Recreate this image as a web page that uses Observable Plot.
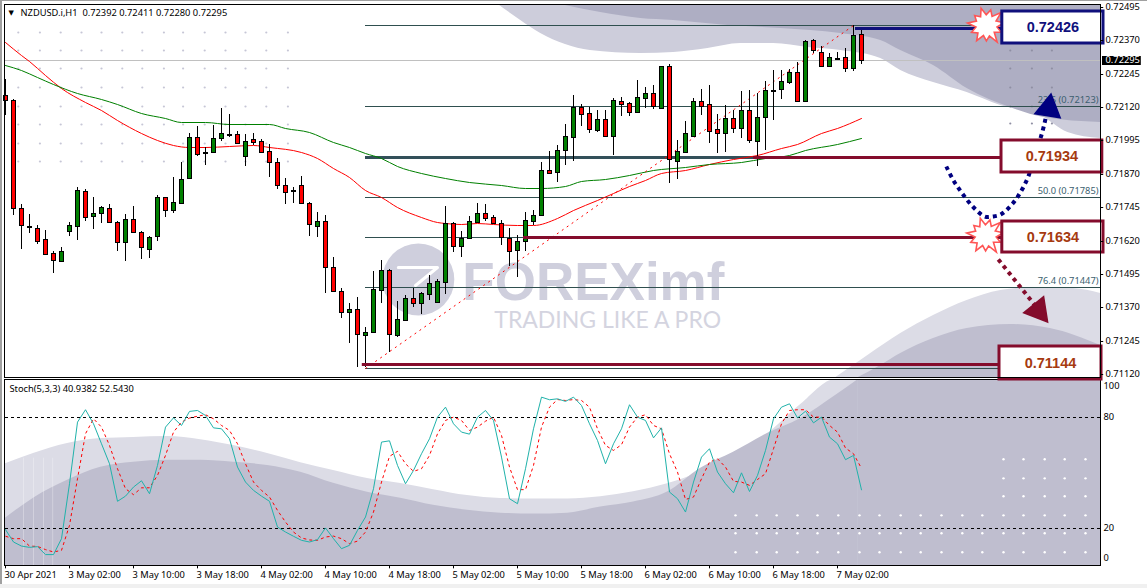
<!DOCTYPE html>
<html>
<head>
<meta charset="utf-8">
<script src="https://cdn.jsdelivr.net/npm/d3@7"></script>
<script src="https://cdn.jsdelivr.net/npm/@observablehq/plot@0.6"></script>
<style>
html,body{margin:0;padding:0;background:#fff;width:1147px;height:588px;overflow:hidden}
#chart{position:relative;width:1147px;height:588px}
#chart svg{position:absolute;left:0;top:0;background:transparent}
#edgeL{position:absolute;left:0;top:0;width:2px;height:584px;background:#a0a0a0}
#edgeT{position:absolute;left:0;top:0;width:1147px;height:1px;background:#a0a0a0}
#edgeB{position:absolute;left:0;top:584px;width:1147px;height:4px;background:#f0f0f0}
</style>
</head>
<body>
<div id="chart"><div id="edgeL"></div><div id="edgeT"></div><div id="edgeB"></div></div>
<script>
// Prices are held in points (1 point = 0.00001)
const highs = [72225,72150,71756,71718,71677,71658,71580,71595,71688,71820,
71812,71782,71748,71756,71692,71718,71748,71655,71636,71790,
71782,71857,71913,72022,72048,71970,72052,72116,72093,72030,
72018,72022,72000,71981,71928,71853,71820,71861,71763,71726,
71715,71557,71441,71385,71407,71295,71505,71546,71512,71392,
71415,71441,71426,71490,71475,71748,71688,71655,71711,71760,
71756,71715,71696,71666,71640,71726,71733,71913,71955,71977,
72056,72165,72131,72120,72108,72108,72153,72157,72138,72221,
72195,72202,72273,72281,71996,72067,72153,72187,72202,72093,
72127,72108,72180,72183,72172,72217,72258,72258,72262,72288,
72371,72375,72348,72322,72326,72341,72427,72411];
const opens = [72165,72146,71741,71673,71666,71625,71572,71542,71655,71673,
71805,71711,71722,71741,71688,71613,71700,71651,71587,71636,
71782,71733,71760,71853,72007,71951,71951,72003,72018,72018,
71936,72000,71992,71955,71913,71827,71808,71827,71760,71673,
71692,71520,71430,71351,71362,71265,71276,71433,71508,71265,
71321,71403,71385,71418,71388,71463,71685,71598,71628,71688,
71722,71707,71685,71628,71583,71617,71692,71715,71883,71876,
71958,72007,72120,72097,72033,72075,72011,72142,72135,72101,
72153,72172,72116,72273,71917,71951,72011,72142,72131,72037,
72022,72078,72041,72108,71992,72082,72183,72187,72213,72251,
72142,72371,72326,72273,72303,72307,72266,72392];
const closes = [72146,71741,71677,71669,71617,71568,71546,71580,71677,71808,
71707,71722,71745,71688,71613,71700,71651,71595,71632,71782,
71733,71763,71850,72007,71943,71947,72003,72022,72014,71985,
71992,71988,71951,71913,71827,71801,71804,71760,71681,71692,
71520,71430,71351,71362,71268,71276,71437,71508,71268,71325,
71403,71385,71422,71460,71467,71685,71598,71628,71692,71722,
71703,71685,71632,71580,71617,71696,71715,71883,71872,71958,
72011,72120,72093,72037,72075,72011,72146,72131,72101,72157,
72172,72123,72273,71925,71955,72022,72142,72123,72030,72022,
72078,72041,72108,71996,72082,72183,72179,72217,72251,72142,
72367,72333,72273,72307,72299,72266,72390,72295];
const lows = [72090,71715,71587,71647,71606,71568,71497,71538,71636,71621,
71692,71662,71685,71685,71580,71542,71647,71550,71553,71617,
71707,71722,71760,71853,71936,71902,71951,71992,72007,71981,
71898,71977,71951,71857,71812,71756,71760,71756,71636,71632,
71422,71426,71328,71238,71148,71145,71276,71385,71201,71257,
71317,71370,71343,71396,71385,71418,71576,71557,71628,71688,
71692,71681,71602,71523,71482,71580,71677,71715,71868,71838,
71902,71917,72048,72022,72026,72011,71940,72086,72086,72101,
72116,72112,72112,71835,71850,71947,72011,72090,71985,71947,
71951,72022,72003,71985,71898,71958,72071,72150,72206,72142,
72142,72322,72273,72273,72299,72251,72255,72280];

// Moving averages read at selected bars
const maFastBars = [0,2,3,5,7,10,12,14,17,19,21,23,25,28,31,33,37,39,41,43,45,47,49,52,54,55,57,59,61,64,66,69,71,74,76,78,80,82,85,88,91,94,97,99,102,104,107];
const maFastVals = [72363,72315,72292,72240,72191,72138,72108,72071,72022,71996,71977,71970,71970,71973,71977,71970,71951,71928,71891,71857,71808,71782,71745,71707,71688,71685,71681,71685,71681,71677,71677,71703,71733,71771,71797,71823,71846,71872,71883,71906,71925,71940,71966,71981,72022,72041,72078];
const maSlowBars = [0,2,4,6,9,12,14,17,20,22,25,28,33,35,38,41,43,45,47,49,52,55,58,62,65,67,70,72,75,78,81,85,88,92,95,98,100,104,107];
const maSlowVals = [72277,72258,72232,72206,72172,72150,72131,72097,72078,72063,72063,72056,72056,72041,72026,71988,71970,71947,71928,71898,71872,71853,71838,71827,71816,71816,71823,71842,71850,71865,71883,71895,71906,71913,71928,71940,71958,71981,72003];

// Stochastic(5,3,3)
const stochK = [19.4,12.7,10.5,9.8,10.2,5.9,5.9,14.5,44.2,77.5,84.2,76.6,65.8,55,34.7,37.5,42.4,45.8,38.8,54.1,
74.8,79.8,75.7,83.3,83.8,81.1,74.4,73.9,68.5,53.2,45.1,40.6,37.5,34.7,20.8,18.1,15.8,13.6,12.7,14,
20.3,14.5,9.1,10.9,19,26.2,41.5,66.7,67.4,54.1,44.2,51.4,60.4,68.5,80.2,85.6,76.6,72.1,71,80.2,
83.8,78.4,58.6,36.1,33.4,52.3,73.9,91,89.6,90.1,88.7,91,86.5,76.6,67.6,55,65.8,73.9,86.9,80.2,
78.4,69,74.4,39.7,36.1,28.9,45.1,58.6,63.1,50.5,44.2,39.3,50.1,40,48.7,62.2,79.3,85.6,87.4,79.8,
83.4,77.1,80.2,69.4,65.8,57.2,59.5,40.9];
const stochD = [15.8,14.5,14.5,10.5,10.3,8.6,7.3,8.2,21.7,46.9,71.2,79.3,74.8,64.9,52.3,41.5,38.3,42,42,48.7,
59.5,72.1,77.5,79.7,80.7,81.5,79.3,75.7,73,65.8,55,45.1,40.6,37,29.8,23.5,18.1,14.9,13.8,13.6,
15.4,15.9,14.5,11.8,13.2,18.1,28.9,45.1,59,61.7,55,50.9,52.3,59.5,71.2,78.4,80.2,78.4,73,74.8,
78,80.2,70.3,53.2,41,41,54.1,74.8,85.6,89.7,89.2,89.7,89.2,85.6,73.9,64.9,62.2,65.3,74.8,80.2,
81.5,75.7,73.9,60.4,50.5,35.7,37,46.9,55.9,57.7,53.2,45.5,45.1,43.3,46.5,49.6,63.1,76.6,83.8,84.2,
84.2,80.2,80.2,75.7,72.1,63.5,60.4,52.5];

const priceTicks = [72495,72370,72245,72120,71995,71870,71745,71620,71495,71370,71245,71120];
const timeBars = [0,8,16,24,32,40,48,56,64,72,80,88,96,104];
const timeLabels = ["30 Apr 2021","3 May 02:00","3 May 10:00","3 May 18:00","4 May 02:00","4 May 10:00","4 May 18:00","5 May 02:00","5 May 10:00","5 May 18:00","6 May 02:00","6 May 10:00","6 May 18:00","7 May 02:00"];
const fibLevels = [72426,72123,71785,71634,71447,71144];
const fibLabels = [{p:72123,t:"23.6 (0.72123)"},{p:71785,t:"50.0 (0.71785)"},{p:71447,t:"76.4 (0.71447)"}];

// Background swooshes (bar, points)
const topLightBars=[61.6,64.4,66.9,70,73.1,79.4,83.5,87.8,91.9,96,100.3,104.4,109.4,111.9,116,120.2,124.4,129.4,132.8,136.9];
const topLightVals=[72506,72446,72397,72356,72333,72322,72326,72341,72360,72360,72345,72333,72303,72258,72213,72176,72127,72090,72026,72003];
const topDarkBars=[69.4,74.4,79.4,83.5,90.3,96.9,104.4,109.4,111.9,116,120.2,125.6,129.8,136.9];
const topDarkVals=[72506,72476,72453,72446,72427,72416,72397,72371,72333,72277,72191,72120,72082,72063];
const lowLightBars=[103.8,107.8,111.9,116,120.2,124.4,128.5,133.5,136.9];
const lowLightVals=[71107,71190,71272,71340,71396,71433,71445,71441,71422];
const lowDarkBars=[106.6,109.4,111.9,116,120.2,125.6,130.6,136.9];
const lowDarkVals=[71107,71152,71197,71254,71291,71306,71291,71227];

// same swooshes in the oscillator window (bar, stochastic value)
const subLightBars=[0,3.5,7.75,11.9,16,20.25,24.4,28.5,32.75,36.9,41,45.25,49.4,53.5,57.75,61.9,66,70.25,74.4,78.5,82.75,86.9,91,95.25,99.4,103.8,106];
const subLightVals=[55,60.5,65.9,68.6,69.2,69.7,68,64.8,60.5,55.6,51.3,47,44.3,41,37.8,36.2,36,36,37.2,39.9,44.2,50.7,60.5,71.2,87,100.5,100.5];
const subDarkBars=[0,3.5,7.75,11.9,16,20.25,24.4,28.5,32.75,36.9,41,45.25,49.4,53.5,57.75,61.9,66,70.25,74.4,78.5,82.75,86.9,91,95.25,99.4,103.8,106.6];
const subDarkVals=[25.5,36.4,46.1,53.1,55.8,56.9,56.9,55.8,54.1,50.4,44.4,39.6,36.4,32.6,29.9,28.3,27.8,28.3,31.6,34.3,39.7,52.6,61.2,71.4,79.5,92,100.5];

// Logo and dotted texture
const dotBarsA=[1.6,4.3,6.9,9.5,12,14.6,17.1,19.8,22.2,24.9,27.5,30,32.6,35.3];
const dotValsA=[72401,72333,72266,72195,72123,72056,71985,71917];
const dotBarsB=[125.6,128.3,130.8];
const dotValsB=[72333,72266,72195,72123,72060];
const subDotBarsA=[91.25,93.9,96.4,99,101.5,104.1,106.75,109.25,111.9,114.4,117,119.6,122.1,124.75,127.25,129.9,132.4,135];
const subDotValsA=[27.1,17.4,7.2];
const subDotBarsB=[124.75,127.25,129.9,132.4,135];
const subDotValsB=[57.4,47.1,37.4];

// Arrows
const navyBars=[117.6,118.5,119.6,120.9,122.4,123.4,124.4,125.9,127,127.9,128.6,129.4,129.9,130.1];
const navyVals=[71898,71846,71797,71748,71711,71711,71718,71760,71808,71865,71940,72007,72063,72093];
const maroonBars=[124.1,125.3,126.6,127.9,128.8];
const maroonVals=[71550,71505,71456,71407,71373];

const FONT="Noto Sans";
const FS=9.3;
const AXIS=136.875;
const MAROON="#840c2c", NAVY="#10107c", SLATE="#2f4f4f";
const xDomain={domain:[0,107],range:[5,861]};

const candles=highs.map((h,i)=>({i,h,l:lows[i],o:opens[i],c:closes[i]}));
const pts=(b,v)=>b.map((x,k)=>({x,y:v[k]}));
const cross=(b,v)=>d3.cross(b,v,(x,y)=>({x,y}));

const burst={draw(ctx,size){
  const r=Math.sqrt(size/Math.PI);
  const radii=[1,.6,.9,.58,1.1,.6,.85,.58,1,.62,.9,.58,1.05,.6,.85,.58,1,.6,.9,.6,1.1,.6];
  radii.forEach((k,n)=>{
    const a=n/radii.length*2*Math.PI-.15;
    const px=Math.cos(a)*k*r, py=Math.sin(a)*k*r;
    n?ctx.lineTo(px,py):ctx.moveTo(px,py);
  });
  ctx.closePath();
}};

function areaAbove(b,v,top,fill){
  return Plot.areaY(pts(b,v),{x:"x",y1:()=>top,y2:"y",fill,curve:"monotone-x"});
}
function areaBelow(b,v,bottom,fill){
  return Plot.areaY(pts(b,v),{x:"x",y1:"y",y2:()=>bottom,fill,curve:"monotone-x"});
}
function box(x1,x2,top,bottom,stroke,label,color){
  return [
    Plot.rect([0],{x1:()=>x1,x2:()=>x2,y1:()=>top,y2:()=>bottom,fill:"#fff",stroke,strokeWidth:3}),
    Plot.text([label],{x:()=>(x1+x2)/2,y:()=>(top+bottom)/2,text:d=>d,fontFamily:"Liberation Sans",fontWeight:"bold",fontSize:14.5,fill:color})
  ];
}

// ---------- oscillator window ----------
const lower=Plot.plot({
  width:1147,height:588,
  marginLeft:4,marginRight:47,marginTop:379,marginBottom:23,
  style:{background:"transparent"},
  x:{...xDomain,axis:null},
  y:{domain:[0,100],range:[565,380],axis:null},
  marks:[
    areaBelow(subLightBars,subLightVals,0,"#dcdce6"),
    Plot.rectY([0],{x1:()=>106,x2:()=>AXIS,y1:()=>0,y2:()=>100.5,fill:"#dcdce6"}),
    areaBelow(subDarkBars,subDarkVals,0,"#bfbecf"),
    Plot.rectY([0],{x1:()=>106.6,x2:()=>AXIS,y1:()=>0,y2:()=>100.5,fill:"#bfbecf"}),
    Plot.ruleX([2.25,3.5,4.75,5.9],{x:d=>d,y1:0,y2:58,stroke:"#fff",strokeOpacity:.3}),
    Plot.dot(cross(subDotBarsA,subDotValsA),{x:"x",y:"y",r:1.2,fill:"#fff"}),
    Plot.dot(cross(subDotBarsB,subDotValsB),{x:"x",y:"y",r:1.2,fill:"#fff"}),
    Plot.ruleY([80,20],{x1:0,x2:AXIS,stroke:"#000",strokeDasharray:"3 3"}),
    Plot.line(stochD.map((v,i)=>({i,v})),{x:"i",y:"v",stroke:"#ff0000",strokeDasharray:"3 3",strokeLinecap:"butt",strokeWidth:1}),
    Plot.line(stochK.map((v,i)=>({i,v})),{x:"i",y:"v",stroke:"#20b2aa",strokeWidth:1}),
    Plot.frame({stroke:"#000"}),
    Plot.text(["Stoch(5,3,3) 40.9382 52.5430"],{text:d=>d,frameAnchor:"top-left",dx:5,dy:6,fontFamily:FONT,fontSize:FS,fill:"#000",textAnchor:"start"}),
    Plot.ruleX(timeBars,{x:d=>d,y1:0,y2:-1.8,stroke:"#000"}),
    Plot.text(timeLabels,{x:(d,i)=>timeBars[i],y:()=>-5.3,text:d=>d,textAnchor:"start",dx:-1,fontFamily:FONT,fontSize:FS,fill:"#000"}),
    Plot.text([80,20],{x:()=>AXIS,y:d=>d,text:d=>String(d),textAnchor:"start",dx:3,fontFamily:FONT,fontSize:FS,fill:"#000"}),
    Plot.text([100],{x:()=>AXIS,y:d=>d,text:d=>String(d),textAnchor:"start",dx:3,dy:6,fontFamily:FONT,fontSize:FS,fill:"#000"}),
    Plot.text([0],{x:()=>AXIS,y:d=>d,text:d=>String(d),textAnchor:"start",dx:3,dy:-7,fontFamily:FONT,fontSize:FS,fill:"#000"})
  ]
});

// ---------- price window ----------
const upper=Plot.plot({
  width:1147,height:588,
  marginLeft:4,marginRight:47,marginTop:4,marginBottom:211,
  style:{background:"transparent"},
  x:{...xDomain,axis:null},
  y:{domain:[72495,71120],range:[7,374],round:true,axis:null},
  marks:[
    areaAbove(topLightBars,topLightVals,72506,"#cdcddb"),
    areaAbove(topDarkBars,topDarkVals,72506,"#aeaec3"),
    areaBelow(lowLightBars,lowLightVals,71107,"#dcdce6"),
    areaBelow(lowDarkBars,lowDarkVals,71107,"#bfbecf"),
    Plot.dot(cross(dotBarsA,dotValsA),{x:"x",y:"y",r:1.1,fill:"#c6c6d6"}),
    Plot.dot(cross(dotBarsB,dotValsB),{x:"x",y:"y",r:1.1,fill:"#8f8fa3"}),
    // watermark
    Plot.dot([0],{x:()=>51.6,y:()=>71475,r:36,fill:"#cfcfdd"}),
    Plot.line(pts([49.1,54,51.25],[71520,71520,71452]),{x:"x",y:"y",stroke:"#fff",strokeWidth:3}),
    Plot.text(["FOREXimf"],{x:()=>57.1,y:()=>71462,text:d=>d,textAnchor:"start",fontFamily:"Liberation Sans",fontWeight:"bold",fontSize:53,fill:"#cfcfdd"}),
    Plot.text(["TRADING LIKE A PRO"],{x:()=>61.1,y:()=>71324,text:d=>d,textAnchor:"start",fontFamily:"Lato",fontSize:23,fill:"#d4d4e0"}),
    // levels
    Plot.ruleY([72295],{x1:0,x2:AXIS,stroke:"#c0c0c0"}),
    Plot.ruleY(fibLevels,{x1:45,x2:AXIS,stroke:SLATE}),
    Plot.ruleY([71934],{x1:45,x2:94,stroke:"#33505a",strokeWidth:3}),
    Plot.text(fibLabels,{x:()=>AXIS,y:"p",text:"t",textAnchor:"end",dx:-2,dy:-6,fontFamily:FONT,fontSize:FS,fill:"#3c5f70"}),
    // moving averages
    Plot.line(pts(maFastBars,maFastVals),{x:"x",y:"y",stroke:"#ff0000",strokeWidth:1,curve:"monotone-x"}),
    Plot.line(pts(maSlowBars,maSlowVals),{x:"x",y:"y",stroke:"#008000",strokeWidth:1,curve:"monotone-x"}),
    // fibo trend
    Plot.line(pts([45,106],[71144,72426]),{x:"x",y:"y",stroke:"#ff0000",strokeDasharray:"2 4",strokeLinecap:"butt",strokeWidth:1}),
    // candles
    Plot.ruleX(candles,{x:"i",y1:"l",y2:"h",stroke:"#000"}),
    Plot.rect(candles,{x1:d=>d.i-.25,x2:d=>d.i+.25,y1:"o",y2:"c",dx:.5,dy:.5,fill:d=>d.c>d.o?"#008000":"#ff0000",stroke:"#000"}),
    // highlighted levels
    Plot.ruleY([72416],{x1:106.25,x2:124.6,stroke:NAVY,strokeWidth:3}),
    Plot.ruleY([71934],{x1:93.5,x2:124.5,stroke:MAROON,strokeWidth:3}),
    Plot.ruleY([71634],{x1:64.75,x2:124.6,stroke:MAROON,strokeWidth:3}),
    Plot.ruleY([71156],{x1:44.6,x2:124.4,stroke:MAROON,strokeWidth:3}),
    // arrows
    Plot.line(pts(navyBars,navyVals),{x:"x",y:"y",stroke:"#000080",strokeWidth:4,strokeDasharray:"4 4",strokeLinecap:"butt",curve:"catmull-rom"}),
    Plot.dot([0],{x:()=>130.4,y:()=>72117,symbol:"triangle",r:9.5,rotate:9,fill:"#000080",stroke:"#000080"}),
    Plot.line(pts(maroonBars,maroonVals),{x:"x",y:"y",stroke:MAROON,strokeWidth:4,strokeDasharray:"4 4",strokeLinecap:"butt"}),
    Plot.dot([0],{x:()=>129.1,y:()=>71358,symbol:"triangle",r:9.5,rotate:141,fill:MAROON,stroke:MAROON}),
    // bursts and value boxes
    Plot.dot([0],{x:()=>122.6,y:()=>72427,symbol:burst,r:18,fill:"#fff",stroke:"#ff5555",strokeWidth:1.6}),
    Plot.dot([0],{x:()=>122.5,y:()=>71640,symbol:burst,r:18,fill:"#fff",stroke:"#ff5555",strokeWidth:1.6}),
    box(124.6,137.25,72480,72360,NAVY,"0.72426","#10107c"),
    box(124.5,137.1,71996,71876,MAROON,"0.71934","#a63a10"),
    box(124.6,137.25,71692,71576,MAROON,"0.71634","#a63a10"),
    box(124.25,137,71224,71100,MAROON,"0.71144","#a63a10"),
    // frame and price axis
    Plot.frame({stroke:"#000"}),
    Plot.ruleY(priceTicks,{x1:AXIS,x2:AXIS+.4,stroke:"#000"}),
    Plot.text(priceTicks,{x:()=>AXIS,y:d=>d,text:d=>(d/1e5).toFixed(5),textAnchor:"start",dx:5,fontFamily:FONT,fontSize:FS,fill:"#000"}),
    Plot.rect([0],{x1:()=>AXIS+.25,x2:()=>AXIS+5.1,y1:()=>72313,y2:()=>72277,fill:"#000"}),
    Plot.text([72295],{x:()=>AXIS,y:d=>d,text:d=>(d/1e5).toFixed(5),textAnchor:"start",dx:5,fontFamily:FONT,fontSize:FS,fill:"#fff"}),
    Plot.text(["▼"],{text:d=>d,frameAnchor:"top-left",dx:4,dy:6,fontFamily:"DejaVu Sans",fontSize:7,fill:"#000",textAnchor:"start"}),
    Plot.text(["NZDUSD.i,H1  0.72392 0.72411 0.72280 0.72295"],{text:d=>d,frameAnchor:"top-left",dx:16,dy:5,fontFamily:FONT,fontSize:FS,fill:"#000",textAnchor:"start"})
  ]
});
const host=document.getElementById("chart");
host.appendChild(lower);
host.appendChild(upper);
</script>
</body>
</html>
